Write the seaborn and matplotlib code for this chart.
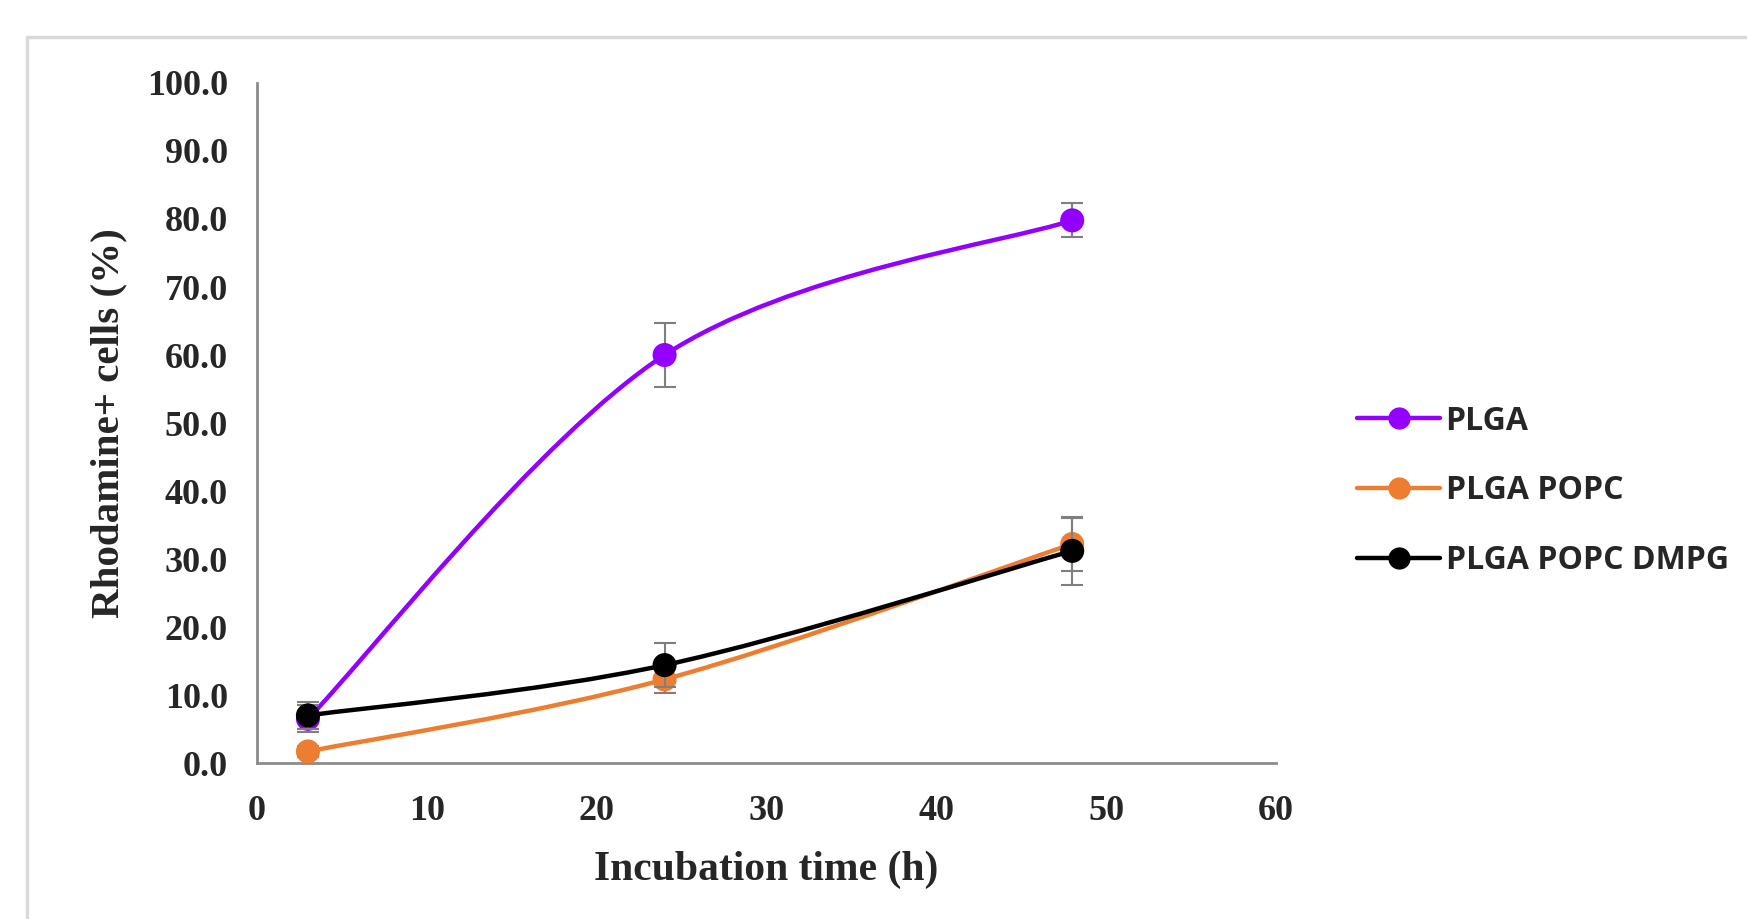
import numpy as np
import pandas as pd
import matplotlib
matplotlib.use("Agg")
import matplotlib.pyplot as plt
from matplotlib.path import Path
from matplotlib.patches import PathPatch
from matplotlib.lines import Line2D
import seaborn as sns

# data
time_h = [3, 24, 48]
plga = [6.5, 60.0, 79.8]
plga_err = [2.0, 4.7, 2.5]
plga_popc = [1.7, 12.3, 32.2]
plga_popc_err = [0.8, 2.0, 3.9]
plga_popc_dmpg = [7.0, 14.4, 31.2]
plga_popc_dmpg_err = [2.0, 3.2, 5.0]

series_names = ["PLGA", "PLGA POPC", "PLGA POPC DMPG"]
colors = ["#9300FF", "#ED7D31", "#000000"]
x_ticks = [0, 10, 20, 30, 40, 50, 60]
y_ticks = [0, 10, 20, 30, 40, 50, 60, 70, 80, 90, 100]

df = pd.DataFrame({
    "time": time_h * 3,
    "value": plga + plga_popc + plga_popc_dmpg,
    "err": plga_err + plga_popc_err + plga_popc_dmpg_err,
    "series": [n for n in series_names for _ in time_h],
})

sns.set_style("white")
serif = ["Liberation Serif", "DejaVu Serif"]


def smooth_path(xs, ys):
    # Excel-style smoothed line: cubic bezier through the points (Catmull-Rom)
    pts = np.column_stack([xs, ys]).astype(float)
    ext = np.vstack([pts[0], pts, pts[-1]])
    verts = [pts[0]]
    codes = [Path.MOVETO]
    for i in range(len(pts) - 1):
        p0, p1, p2, p3 = ext[i], ext[i + 1], ext[i + 2], ext[i + 3]
        verts += [p1 + (p2 - p0) / 6, p2 - (p3 - p1) / 6, p2]
        codes += [Path.CURVE4] * 3
    return Path(verts, codes)


fig = plt.figure(figsize=(17.47, 9.19), dpi=100)
ax = fig.add_axes([0.1471, 0.1697, 0.5833, 0.7400])

for i, (name, col) in enumerate(zip(series_names, colors)):
    sub = df[df["series"] == name]
    ax.add_patch(PathPatch(smooth_path(sub["time"], sub["value"]), fill=False,
                           edgecolor=col, lw=3.2, zorder=2 + i * 3,
                           capstyle="round"))
    ax.errorbar(sub["time"], sub["value"], yerr=sub["err"], fmt="none",
                ecolor="#7f7f7f", elinewidth=1.5, capsize=8, capthick=1.5,
                zorder=3 + i * 3)
    sns.scatterplot(data=sub, x="time", y="value", color=col, s=300,
                    edgecolor="none", ax=ax, legend=False, zorder=4 + i * 3)

ax.set_xlim(0, 60)
ax.set_ylim(0, 100)
ax.set_xticks(x_ticks)
ax.set_yticks(y_ticks)
ax.set_xticklabels([str(v) for v in x_ticks], family=serif, weight="bold", fontsize=26)
ax.set_yticklabels([f"{v:.1f}" for v in y_ticks], family=serif, weight="bold", fontsize=26)
ax.tick_params(axis="both", length=0)
ax.tick_params(axis="y", pad=21)
ax.tick_params(axis="x", pad=23)

ax.set_xlabel("Incubation time (h)", family=serif, weight="bold", fontsize=30)
ax.set_ylabel("Rhodamine+ cells (%)", family=serif, weight="bold", fontsize=29.5)
ax.xaxis.set_label_coords(0.5, -0.129)
ax.yaxis.set_label_coords(-0.127, 0.5)

for side in ["top", "right"]:
    ax.spines[side].set_visible(False)
for side in ["left", "bottom"]:
    ax.spines[side].set_color("#8c8c8c")
    ax.spines[side].set_linewidth(2)

handles = [Line2D([0], [0], color=c, lw=3.2, marker="o", markersize=15)
           for c in colors]
fig.legend(handles, series_names, loc="center left",
           bbox_to_anchor=(0.7768, 0.466), frameon=False,
           prop={"family": ["Open Sans", "DejaVu Sans"], "weight": "bold", "size": 23},
           handlelength=2.6, handletextpad=0.17, labelspacing=1.15,
           borderpad=0, borderaxespad=0)

# light outer frame around the figure area
fig.add_artist(Line2D([27 / 1747, 1.0], [1 - 37 / 919] * 2,
                      transform=fig.transFigure, color="#d9d9d9", lw=2.5))
fig.add_artist(Line2D([27 / 1747] * 2, [0.0, 1 - 37 / 919],
                      transform=fig.transFigure, color="#d9d9d9", lw=2.5))

fig.savefig("out.png", dpi=100)
